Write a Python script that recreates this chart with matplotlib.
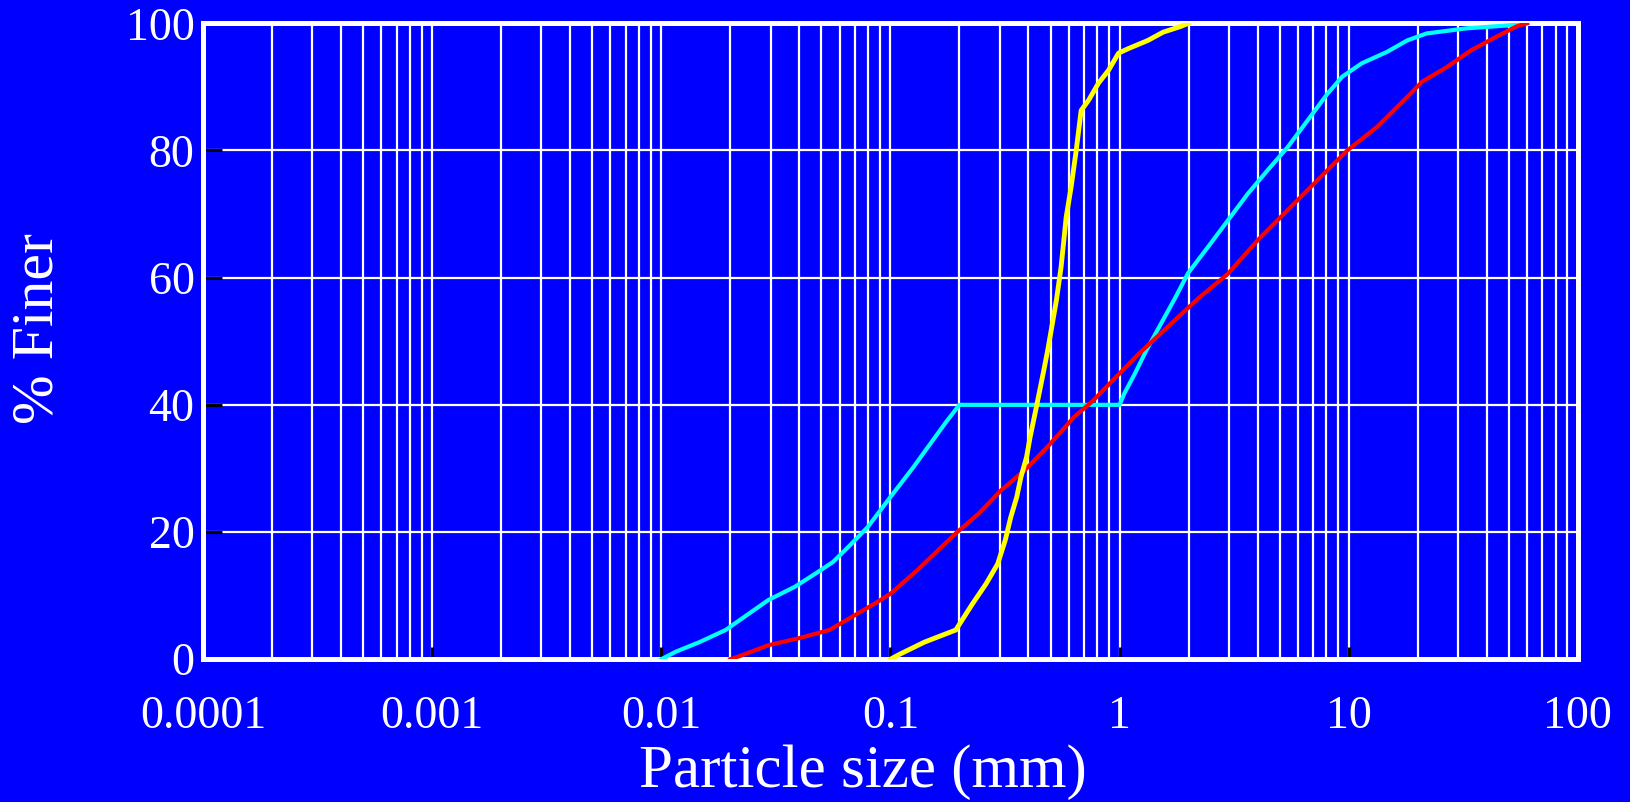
import matplotlib
matplotlib.use("Agg")
import matplotlib.pyplot as plt
from matplotlib.ticker import FixedLocator, LogLocator, NullFormatter

plt.rcParams['font.family'] = ['Liberation Serif', 'DejaVu Serif']

# particle size (mm) and % finer for each sample
yellow_size = [0.1, 0.11, 0.141, 0.193, 0.205, 0.229, 0.262, 0.294, 0.317, 0.335, 0.356,
               0.371, 0.393, 0.407, 0.431, 0.467, 0.486, 0.53, 0.556, 0.585, 0.615,
               0.647, 0.68, 0.733, 0.81, 0.895, 0.99, 1.09, 1.33, 1.55, 1.85, 2.0]
yellow_finer = [0, 0.8, 2.7, 4.6, 6.1, 8.8, 11.9, 15, 18.7, 22.3, 25.5,
                28.6, 31.8, 34.9, 39.2, 45.4, 48.6, 56.4, 61.7, 69.5, 74.3,
                80, 86.3, 87.9, 90.6, 92.6, 95.3, 96, 97.3, 98.6, 99.5, 100]

cyan_size = [0.01, 0.0116, 0.0147, 0.0191, 0.0293, 0.0383, 0.0482, 0.0562, 0.0657,
             0.0797, 0.1, 0.126, 0.153, 0.175, 0.2, 1.0, 1.05, 1.17, 1.31, 1.76,
             1.99, 2.43, 2.97, 3.63, 4.43, 5.41, 6.61, 8.07, 9.37, 11.4, 14.7,
             18.0, 21.9, 32.7, 51.3, 60]
cyan_finer = [0, 1.2, 2.7, 4.6, 9.3, 11.4, 13.7, 15.3, 17.7,
              20.8, 25.5, 30.2, 34.4, 37.3, 40, 40, 41.8, 45, 48.6, 57,
              60.7, 64.8, 69, 73.2, 76.9, 80.5, 84.7, 88.9, 91.6, 93.7, 95.5,
              97.3, 98.4, 99.2, 99.7, 100]

red_size = [0.02, 0.0224, 0.0293, 0.0398, 0.0542, 0.0682, 0.0859, 0.1, 0.131, 0.159,
            0.193, 0.243, 0.305, 0.385, 0.485, 0.634, 0.769, 0.967, 1.22, 2.2,
            2.97, 4.01, 5.41, 7.3, 9.86, 13.3, 18.0, 20.9, 26.8, 34.4, 44.2, 54, 60]
red_finer = [0, 0.6, 2.2, 3.3, 4.6, 6.7, 8.8, 10.3, 14, 16.9,
             19.8, 22.9, 26.6, 29.7, 33.4, 38.1, 40.7, 44.4, 48.1, 56.7,
             60.6, 65.9, 70.6, 75.3, 80, 83.7, 88.4, 90.8, 93.1, 95.8, 97.9, 99.5, 100]

x_ticks = [0.0001, 0.001, 0.01, 0.1, 1, 10, 100]
x_labels = ['0.0001', '0.001', '0.01', '0.1', '1', '10', '100']
y_ticks = [0, 20, 40, 60, 80, 100]

fig = plt.figure(figsize=(16.3, 8.02), dpi=100, facecolor='#0000FF')
ax = fig.add_axes([0.1245, 0.178, 0.8435, 0.793])
ax.set_facecolor('#0000FF')

ax.plot(cyan_size, cyan_finer, color='#00FFFF', lw=3, zorder=3)
ax.plot(red_size, red_finer, color='#FF0000', lw=3, zorder=3)
ax.plot(yellow_size, yellow_finer, color='#FFFF00', lw=3.5, zorder=4)

ax.set_xscale('log')
ax.set_xlim(0.0001, 100)
ax.set_ylim(0, 100)

ax.xaxis.set_major_locator(FixedLocator(x_ticks))
ax.set_xticklabels(x_labels)
ax.xaxis.set_minor_locator(LogLocator(base=10, subs=range(2, 10), numticks=20))
ax.xaxis.set_minor_formatter(NullFormatter())
ax.set_yticks(y_ticks)

ax.grid(True, which='both', axis='x', color='white', lw=1.6, zorder=1)
ax.grid(True, which='major', axis='y', color='white', lw=1.6, zorder=1)
ax.set_axisbelow(True)

for s in ax.spines.values():
    s.set_color('white')
    s.set_linewidth(3.6)

ax.tick_params(axis='x', which='major', direction='in', length=9, width=2.2,
               color='black', labelcolor='white', labelsize=33, pad=26)
ax.tick_params(axis='x', which='minor', length=0)
ax.tick_params(axis='y', direction='in', length=14, width=2.2,
               color='black', labelcolor='white', labelsize=33, pad=6)

ax.set_xlabel('Particle size (mm)', color='white', fontsize=44)
ax.set_ylabel('% Finer', color='white', fontsize=43)
ax.xaxis.set_label_coords(0.48, -0.133)
ax.yaxis.set_label_coords(-0.1, 0.52)

plt.savefig('out.png', dpi=100, facecolor='#0000FF')
